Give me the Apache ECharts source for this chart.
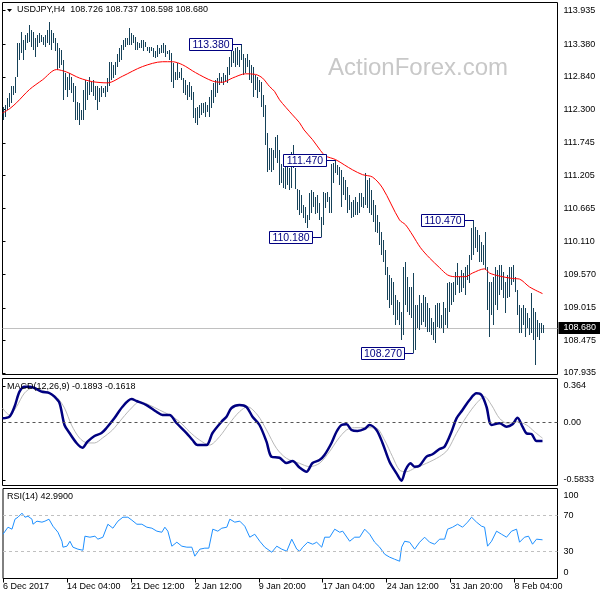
<!DOCTYPE html>
<html><head><meta charset="utf-8">
<script src="https://cdn.jsdelivr.net/npm/echarts@6/dist/echarts.min.js"></script>
<style>html,body{margin:0;padding:0;background:#fff}#c{width:600px;height:600px}</style>
</head><body><div id="c"></div>
<script>
const FONT = 'Liberation Sans, Arial, sans-serif';
const symbolName = 'USDJPY,H4';
const lastOHLC = [108.726, 108.737, 108.598, 108.680];
const macdLast = ['-0.1893', '-0.1618'];
const rsiLast = '42.9900';
const priceTickLabels = ['113.935','113.380','112.840','112.300','111.745','111.205','110.665','110.110','109.570','109.015','108.475','107.935'];
const macdTickLabels = ['0.364','0.00','-0.5833'];
const rsiTickLabels = ['100','70','30','0'];
const dateTickLabels = ['6 Dec 2017','14 Dec 04:00','21 Dec 12:00','2 Jan 12:00','9 Jan 20:00','17 Jan 04:00','24 Jan 12:00','31 Jan 20:00','8 Feb 04:00'];
const dateTickIdx = [0,32,64,96,128,160,192,224,256];

const highs = [112.34,112.38,112.49,112.58,112.68,112.68,112.84,113.40,113.40,113.59,
113.45,113.54,113.57,113.70,113.62,113.59,113.49,113.54,113.57,113.54,
113.50,113.54,113.62,113.75,113.62,113.57,113.49,113.40,113.32,113.29,
113.12,112.91,112.84,112.91,112.84,112.74,112.68,112.43,112.41,112.29,
112.63,112.79,112.76,112.84,112.76,112.79,112.68,112.68,112.66,112.68,
112.66,112.68,112.82,113.09,113.09,113.04,113.09,113.21,113.32,113.37,
113.45,113.49,113.49,113.65,113.57,113.54,113.50,113.42,113.40,113.45,
113.45,113.42,113.34,113.34,113.34,113.32,113.26,113.37,113.32,113.37,
113.40,113.37,113.26,113.29,113.24,113.07,112.92,113.07,112.92,112.99,
112.82,112.79,112.71,112.76,112.68,112.59,112.33,112.34,112.38,112.41,
112.41,112.43,112.38,112.51,112.63,112.74,112.79,112.82,112.91,112.84,
112.91,112.87,113.01,113.17,113.37,113.26,113.32,113.34,113.29,113.38,
113.21,113.16,113.21,113.12,113.04,113.01,112.87,112.84,112.79,112.76,
112.54,112.38,111.91,111.66,111.66,111.63,111.85,111.88,111.63,111.40,
111.33,111.40,111.42,111.33,111.60,111.71,111.33,110.98,110.97,110.88,
110.72,110.69,110.55,110.92,110.97,110.93,110.85,110.88,110.75,110.52,
110.93,110.92,110.93,110.85,111.40,111.42,111.47,111.38,111.35,111.30,
111.18,111.13,111.02,110.88,110.77,110.80,110.85,110.77,110.92,110.92,
110.85,111.25,111.13,111.17,110.97,110.80,110.72,110.55,110.44,110.27,
110.14,109.97,109.69,109.56,109.51,109.44,109.23,109.14,109.11,108.95,
109.69,109.77,109.53,109.36,109.36,109.59,109.06,109.06,109.23,109.09,
109.23,109.19,109.09,109.01,108.85,108.78,109.06,109.09,109.09,108.90,
109.11,109.01,109.43,109.44,109.43,109.44,109.61,109.76,109.53,109.64,
109.59,109.69,109.72,109.89,110.34,110.47,110.36,110.31,110.22,110.11,
110.06,110.27,109.69,109.44,109.44,109.53,109.69,109.64,109.72,109.72,
109.61,109.44,109.56,109.69,109.69,109.72,109.53,109.31,109.06,109.01,
109.06,109.01,108.93,108.85,109.26,109.01,108.95,108.81,108.76,108.76,
108.737];
const lows = [112.13,112.18,112.29,112.34,112.41,112.54,112.58,112.84,113.12,113.24,
113.12,113.29,113.40,113.42,113.34,113.29,113.17,113.34,113.40,113.42,
113.37,113.34,113.40,113.37,113.29,113.40,113.26,112.96,112.99,113.04,
112.46,112.63,112.51,112.63,112.58,112.43,112.13,112.13,112.05,112.13,
112.13,112.29,112.46,112.54,112.59,112.53,112.46,112.29,112.43,112.51,
112.58,112.51,112.59,112.68,112.79,112.82,112.87,113.01,113.09,113.12,
113.29,113.34,113.37,113.37,113.37,113.40,113.29,113.29,113.32,113.32,
113.26,113.34,113.26,113.24,113.26,113.17,113.16,113.17,113.21,113.24,
113.24,113.17,113.21,113.12,112.76,112.66,112.79,112.79,112.82,112.79,
112.58,112.54,112.46,112.51,112.46,112.16,112.08,112.05,112.16,112.21,
112.24,112.18,112.26,112.18,112.33,112.41,112.51,112.58,112.71,112.74,
112.71,112.76,112.74,112.87,113.01,113.07,113.01,113.04,113.01,113.12,
112.87,112.91,113.01,112.79,112.74,112.51,112.63,112.49,112.59,112.34,
112.18,111.71,111.27,111.30,111.27,111.30,111.50,111.42,111.05,111.08,
111.00,110.98,111.05,110.97,111.00,111.33,110.98,110.64,110.55,110.59,
110.50,110.42,110.34,110.47,110.59,110.69,110.57,110.59,110.47,110.18,
110.39,110.67,110.77,110.59,110.59,111.08,111.25,111.22,111.05,110.69,
110.88,110.80,110.59,110.64,110.50,110.52,110.55,110.55,110.59,110.69,
110.67,110.72,110.67,110.59,110.55,110.44,110.27,110.26,110.06,109.89,
109.78,109.56,109.14,109.01,109.06,108.90,108.73,108.81,108.73,108.48,
108.57,109.06,108.95,108.90,108.85,108.27,108.32,108.68,108.65,108.73,
108.78,108.70,108.61,108.61,108.57,108.48,108.43,108.70,108.68,108.68,
108.60,108.73,108.68,108.95,109.06,109.11,109.23,109.39,109.26,109.28,
109.34,109.23,109.48,109.43,109.81,109.89,110.01,109.94,109.78,109.78,
109.73,109.64,108.98,108.53,108.90,108.73,109.06,108.98,109.23,109.31,
109.18,108.93,109.18,109.19,109.39,109.44,109.28,108.90,108.60,108.60,
108.73,108.53,108.68,108.57,108.60,108.48,108.07,108.53,108.48,108.60,
108.598];

const maLine = [[0,112.24],[3.5,112.31],[7,112.41],[13.5,112.63],[20,112.79],[27,112.96],[32,112.92],[38.5,112.82],[45,112.76],[52.5,112.74],[60,112.85],[70,113.01],[80,113.09],[85,113.09],[90,113.04],[96.5,112.91],[105,112.77],[110,112.75],[115,112.82],[121.5,112.89],[126.5,112.88],[130,112.82],[133.5,112.68],[136,112.60],[138.5,112.46],[145,112.21],[148.5,112.08],[150.8,111.96],[155,111.80],[159,111.62],[161.5,111.53],[166.5,111.47],[171,111.38],[175,111.30],[180,111.22],[185,111.18],[190,111.00],[198.5,110.47],[201.5,110.39],[205,110.22],[209,110.01],[213.5,109.84],[218.5,109.68],[222.5,109.56],[226,109.53],[231.5,109.53],[235,109.59],[241,109.66],[243.5,109.59],[248.5,109.54],[255,109.50],[258.5,109.49],[263.5,109.36],[270,109.25]];

const macdMain = [[0,0.038],[3.5,0.055],[6,0.155],[8.5,0.307],[11,0.357],[13.5,0.357],[16,0.344],[19.5,0.307],[23.5,0.293],[26,0.256],[28.5,0.193],[31,-0.029],[33.5,-0.110],[37,-0.210],[40,-0.258],[42.5,-0.197],[46,-0.140],[49.5,-0.110],[52,-0.059],[56,0.041],[60,0.155],[64.5,0.233],[67,0.213],[72,0.172],[77,0.105],[80,0.072],[83.5,0.072],[87,-0.009],[92,-0.110],[95,-0.180],[97.5,-0.231],[102,-0.231],[105,-0.110],[109.5,0.004],[112,0.055],[114.5,0.142],[118.5,0.172],[122,0.152],[125,0.055],[128.5,-0.029],[132,-0.197],[134.5,-0.349],[138.5,-0.359],[142,-0.412],[145,-0.392],[148.5,-0.457],[152,-0.500],[155,-0.412],[158.5,-0.382],[161,-0.331],[164.5,-0.210],[167,-0.097],[169.5,-0.029],[172,-0.022],[174.5,-0.079],[177.5,-0.089],[181,-0.069],[183.5,-0.029],[187,-0.079],[190,-0.210],[193.5,-0.399],[197,-0.516],[199.5,-0.590],[201.5,-0.483],[204,-0.415],[206,-0.449],[208.5,-0.439],[212,-0.348],[215,-0.324],[218.5,-0.271],[221,-0.248],[224.5,-0.097],[227,0.038],[230,0.122],[233.5,0.223],[237,0.290],[239.5,0.273],[242,0.155],[244.5,-0.029],[248.5,-0.012],[252,-0.046],[255,-0.022],[257.5,0.045],[260,-0.046],[262,-0.113],[264.5,-0.120],[267,-0.190],[270,-0.1893]];

const macdSignal = [[0,0.142],[3.5,0.072],[7,0.155],[11,0.293],[15,0.344],[19.5,0.324],[23.5,0.293],[27.5,0.243],[31,0.142],[34.5,-0.029],[38.5,-0.160],[42.5,-0.210],[46,-0.210],[50,-0.160],[55,-0.079],[60,0.041],[64.5,0.142],[68.5,0.206],[73.5,0.172],[78.5,0.122],[83.5,0.072],[88.5,0.004],[93.5,-0.097],[98.5,-0.180],[103.5,-0.231],[108.5,-0.147],[113.5,-0.012],[118.5,0.105],[122.5,0.155],[127.5,0.072],[132,-0.079],[137,-0.264],[142,-0.365],[148.5,-0.415],[153.5,-0.449],[158.5,-0.415],[163.5,-0.298],[167.5,-0.180],[172,-0.079],[176,-0.056],[182,-0.056],[187,-0.062],[191,-0.180],[195,-0.348],[198.5,-0.483],[202,-0.500],[206,-0.465],[212,-0.415],[218.5,-0.348],[222.5,-0.281],[227,-0.113],[232,0.055],[237,0.190],[241,0.256],[244.5,0.172],[248.5,0.038],[252.5,-0.012],[257,0.004],[262,-0.029],[266,-0.097],[270,-0.1618]];

const rsiLine = [[0,49.2],[2.5,57.0],[4.5,54.8],[6,65.9],[7.5,68.1],[9.5,72.6],[11,68.1],[12.5,69.2],[14.5,65.9],[15,60.3],[17,63.7],[19.5,62.6],[21,63.7],[23,65.9],[25,58.1],[27.5,51.4],[29.5,41.4],[30,34.8],[32,35.9],[33.5,41.4],[35,34.8],[37.5,32.6],[40,31.4],[41,47.0],[43.5,45.9],[46,47.0],[47.5,43.7],[50,45.9],[52.5,60.3],[55,55.9],[57.5,63.7],[60,68.1],[62.5,68.1],[64.5,64.8],[67,60.3],[69.5,60.3],[72,57.0],[74.5,55.9],[77,52.6],[79.5,51.4],[81,57.0],[82.5,52.6],[84.5,35.9],[87,40.3],[89.5,35.9],[92,34.8],[94.5,34.8],[96,24.8],[98.5,32.6],[101,33.7],[103,33.7],[105,54.8],[107.5,52.6],[109.5,55.9],[112,57.0],[113.5,65.9],[116,62.6],[118.5,63.7],[121,58.1],[123.5,45.9],[126,49.2],[128.5,41.4],[131,34.8],[134.5,29.2],[137,35.9],[139.5,32.6],[142,30.3],[144.5,43.7],[147,32.6],[148.5,30.3],[150,34.8],[152.5,40.3],[155,38.1],[157,40.3],[159.5,34.8],[161,45.9],[163.5,45.9],[166,54.8],[168.5,51.4],[170,52.6],[173.5,41.4],[176,45.9],[178.5,45.9],[181,54.8],[183.5,49.2],[186,40.3],[188.5,34.8],[191,27.0],[193.5,23.7],[196,21.4],[198.5,19.2],[199.5,34.8],[201,41.4],[203.5,40.3],[206,32.6],[208.5,40.3],[211,45.9],[213.5,40.3],[216,38.1],[218.5,43.7],[221,43.7],[222.5,54.8],[225,57.0],[227.5,60.3],[230,57.0],[232.5,62.6],[234.5,68.1],[237,62.6],[239.5,58.1],[241,57.0],[242.5,35.9],[244.5,41.4],[247,52.6],[249.5,49.2],[252,45.9],[254.5,52.6],[257,54.8],[258.5,40.3],[261,45.9],[263,47.0],[265,38.1],[267,43.7],[270,42.99]];

const annIdx = [119,166,159,235,205];
const annPrice = [113.38,111.47,110.18,110.47,108.27];
const annText = ['113.380','111.470','110.180','110.470','108.270'];
const currentPrice = 108.680;

const barData = highs.map((h,i)=>[i,h,lows[i]]);
const annData = annIdx.map((ix,k)=>[ix,annPrice[k]]);
const BAR = '#164259';
const txt = {fontSize:9, color:'#000', fontFamily:FONT};

const chart = echarts.init(document.getElementById('c'));
const xBase = {type:'value', min:0, max:277.5, splitLine:{show:false}};
chart.setOption({
  animation:false,
  backgroundColor:'#fff',
  title:[
    {text: symbolName + '  ' + lastOHLC.map(v=>v.toFixed(3)).join(' '), left:17, top:5, padding:0, textStyle:Object.assign({fontWeight:'normal'},txt)},
    {text: 'MACD(12,26,9) ' + macdLast.join(' '), left:7, top:382, padding:0, textStyle:Object.assign({fontWeight:'normal'},txt)},
    {text: 'RSI(14) ' + rsiLast, left:7, top:492, padding:0, textStyle:Object.assign({fontWeight:'normal'},txt)}
  ],
  graphic:[
    {type:'text', left:328, top:56, style:{text:'ActionForex.com', fontSize:24, fontFamily:FONT, fill:'#c8c8c8'}, z:0},
    {type:'polygon', shape:{points:[[7,9],[12,9],[9.5,12]]}, style:{fill:'#000'}}
  ],
  grid:[
    {left:2.5, top:2.5, width:555, height:372, show:true, borderColor:'#000', borderWidth:1, backgroundColor:'transparent'},
    {left:2.5, top:378.5, width:555, height:107, show:true, borderColor:'#000', borderWidth:1},
    {left:2.5, top:488.5, width:555, height:90, show:true, borderColor:'#000', borderWidth:1}
  ],
  xAxis:[
    Object.assign({gridIndex:0, show:false}, xBase),
    Object.assign({gridIndex:1, show:false}, xBase),
    Object.assign({gridIndex:2, axisLine:{show:false},
      axisTick:{show:true, customValues:dateTickIdx, length:4, lineStyle:{color:'#000'}},
      axisLabel:Object.assign({customValues:dateTickIdx, formatter:v=>dateTickLabels[dateTickIdx.indexOf(v)], align:'left', margin:4}, txt)}, xBase)
  ],
  yAxis:[
    {gridIndex:0, type:'value', position:'right', min:107.910, max:114.071, splitLine:{show:false}, axisLine:{show:false},
     axisTick:{show:true, customValues:priceTickLabels.map(Number), length:3, lineStyle:{color:'#000'}},
     axisLabel:Object.assign({customValues:priceTickLabels.map(Number), formatter:v=>v.toFixed(3), margin:6}, txt)},
    {gridIndex:1, type:'value', position:'right', min:-0.6387, max:0.4396, splitLine:{show:false}, axisLine:{show:false},
     axisTick:{show:true, customValues:macdTickLabels.map(Number), length:3, lineStyle:{color:'#000'}},
     axisLabel:Object.assign({customValues:macdTickLabels.map(Number), formatter:v=>macdTickLabels[macdTickLabels.map(Number).indexOf(v)], margin:6}, txt)},
    {gridIndex:2, type:'value', position:'right', min:0, max:100, splitLine:{show:false}, axisLine:{show:false},
     axisTick:{show:true, customValues:rsiTickLabels.map(Number), length:3, lineStyle:{color:'#000'}},
     axisLabel:Object.assign({customValues:rsiTickLabels.map(Number), margin:6,
       formatter:v=> v===100 ? '{t|100}' : (v===0 ? '{b|0}' : String(v)),
       rich:{t:{padding:[14,0,0,0], fontSize:9, fontFamily:FONT, color:'#000'}, b:{padding:[0,0,12,0], fontSize:9, fontFamily:FONT, color:'#000'}}}, txt)}
  ],
  series:[
    {type:'custom', xAxisIndex:0, yAxisIndex:0, data:barData, encode:{x:0, y:[1,2]}, z:3, clip:true,
     renderItem:(params, api)=>{
       const p1 = api.coord([api.value(0), api.value(1)]);
       const p2 = api.coord([api.value(0), api.value(2)]);
       const y1 = Math.round(p1[1]), y2 = Math.round(p2[1]);
       return {type:'rect', shape:{x:Math.round(p1[0]), y:y1, width:1, height:Math.max(1,y2-y1)}, style:{fill:BAR}};
     },
     markLine:{silent:true, symbol:'none', z:1, data:[{yAxis:currentPrice}], lineStyle:{color:'#c0c0c0', width:1, type:'solid'},
       label:{show:true, position:'end', distance:1, formatter:currentPrice.toFixed(3), color:'#fff', backgroundColor:'#000', padding:[2,8,1,5], fontSize:9, fontFamily:FONT}}
    },
    {type:'line', xAxisIndex:0, yAxisIndex:0, data:maLine, symbol:'none', smooth:0.3, z:4, lineStyle:{color:'#ff0000', width:1}},
    {type:'custom', xAxisIndex:0, yAxisIndex:0, data:annData, encode:{x:0, y:1}, z:6, clip:false,
     renderItem:(params, api)=>{
       const p = api.coord([api.value(0), api.value(1)]);
       const x = Math.round(p[0]); const y = Math.round(p[1]) + 0.5;
       const w = 43, h = 12; const bx = x - 9 - w + 0.5;
       return {type:'group', children:[
         {type:'line', shape:{x1:bx+w, y1:y, x2:x+0.5, y2:y}, style:{stroke:'#000080', lineWidth:1}},
         {type:'rect', shape:{x:bx, y:y-6, width:w, height:h}, style:{fill:'#fff', stroke:'#000080', lineWidth:1}},
         {type:'text', style:{text:annText[params.dataIndex], x:bx+w/2, y:y+0.5, align:'center', verticalAlign:'middle', fontSize:10.5, fontFamily:FONT, fill:'#000080'}}
       ]};
     }
    },
    {type:'line', xAxisIndex:1, yAxisIndex:1, data:macdSignal, symbol:'none', smooth:0.3, z:3, lineStyle:{color:'#b8b8b8', width:1},
     markLine:{silent:true, symbol:'none', data:[{yAxis:0}], lineStyle:{color:'#555', width:1, type:[3,3]}, label:{show:false}}},
    {type:'line', xAxisIndex:1, yAxisIndex:1, data:macdMain, symbol:'none', smooth:0.3, z:4, lineStyle:{color:'#000080', width:2.5}},
    {type:'line', xAxisIndex:2, yAxisIndex:2, data:rsiLine, symbol:'none', z:4, lineStyle:{color:'#1e90ff', width:1},
     markLine:{silent:true, symbol:'none', data:[{yAxis:70},{yAxis:30}], lineStyle:{color:'#c0c0c0', width:1, type:[3,3]}, label:{show:false}}}
  ]
});
</script>
</body></html>
